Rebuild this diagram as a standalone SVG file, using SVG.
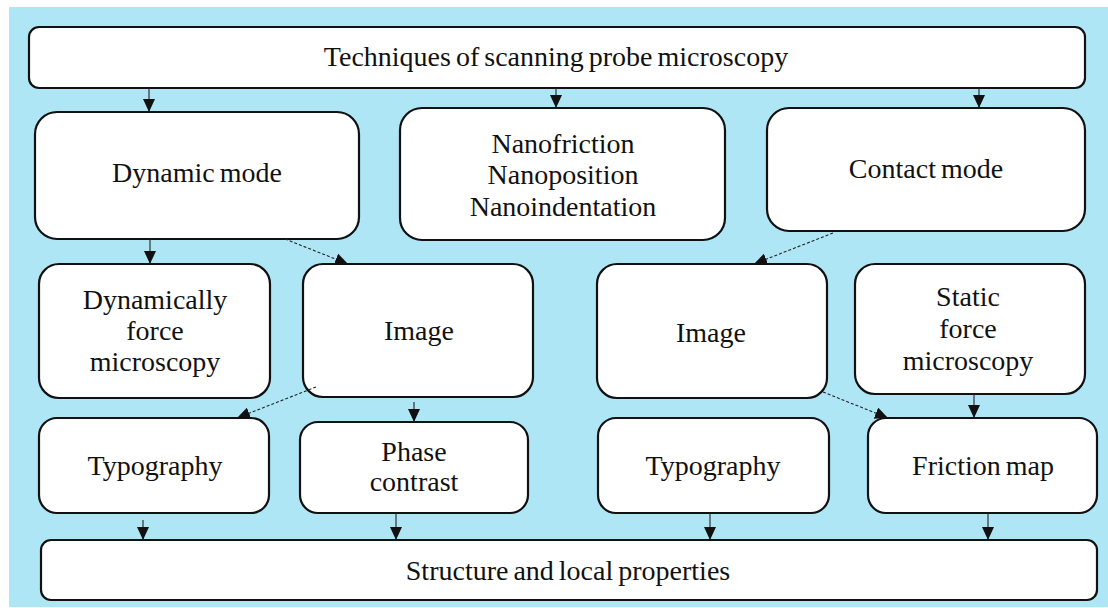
<svg xmlns="http://www.w3.org/2000/svg" width="1108" height="608" viewBox="0 0 1108 608">
<style>
.box{fill:#ffffff;stroke:#111111;stroke-width:2.2}
text{font-family:'Liberation Serif','Tinos','DejaVu Serif','Noto Serif',serif;font-size:28px;fill:#111111;text-anchor:middle;word-spacing:-2px}
.c{stroke:#222222;stroke-width:1.1;fill:none;marker-end:url(#ah)}
.d{stroke-dasharray:3 2}
</style>
<defs>
<marker id="ah" viewBox="0 0 13 12" refX="13" refY="6" markerWidth="13" markerHeight="12" markerUnits="userSpaceOnUse" orient="auto">
<path d="M0,0 L13,6 L0,12 z" fill="#111111"/>
</marker>
</defs>
<rect x="0" y="0" width="1108" height="608" fill="#ffffff"/>
<rect x="9" y="7" width="1099" height="600" fill="#aee6f6"/>

<g id="top">
<rect class="box" x="29" y="27" width="1056" height="61" rx="10"/>
<text x="556" y="66">Techniques of scanning probe microscopy</text>
</g>
<g id="dynamic">
<rect class="box" x="35" y="112" width="324" height="127" rx="22"/>
<text x="197" y="182">Dynamic mode</text>
</g>
<g id="nano">
<rect class="box" x="400" y="108" width="325" height="132" rx="22"/>
<text x="563" y="153">Nanofriction</text>
<text x="563" y="184">Nanoposition</text>
<text x="563" y="216">Nanoindentation</text>
</g>
<g id="contact">
<rect class="box" x="767" y="108" width="318" height="123" rx="22"/>
<text x="926" y="178">Contact mode</text>
</g>
<g id="dynforce">
<rect class="box" x="39" y="264" width="231" height="134" rx="20"/>
<text x="155" y="309">Dynamically</text>
<text x="155" y="340">force</text>
<text x="155" y="371">microscopy</text>
</g>
<g id="imageL">
<rect class="box" x="303" y="264" width="230" height="133" rx="20"/>
<text x="419" y="340">Image</text>
</g>
<g id="imageR">
<rect class="box" x="597" y="264" width="230" height="134" rx="20"/>
<text x="711" y="342">Image</text>
</g>
<g id="static">
<rect class="box" x="855" y="264" width="230" height="130" rx="20"/>
<text x="968" y="306">Static</text>
<text x="968" y="338">force</text>
<text x="968" y="370">microscopy</text>
</g>
<g id="typoL">
<rect class="box" x="39" y="418" width="230" height="95" rx="18"/>
<text x="155" y="475">Typography</text>
</g>
<g id="phase">
<rect class="box" x="300" y="422" width="228" height="91" rx="18"/>
<text x="414" y="461">Phase</text>
<text x="414" y="491">contrast</text>
</g>
<g id="typoR">
<rect class="box" x="598" y="418" width="231" height="95" rx="18"/>
<text x="713" y="475">Typography</text>
</g>
<g id="friction">
<rect class="box" x="868" y="418" width="229" height="95" rx="18"/>
<text x="983" y="475">Friction map</text>
</g>
<g id="structure">
<rect class="box" x="41" y="540" width="1056" height="60" rx="10"/>
<text x="568" y="580">Structure and local properties</text>
</g>

<g id="connectors">
<line class="c" x1="149" y1="88" x2="149" y2="112"/>
<line class="c" x1="556" y1="88" x2="556" y2="108"/>
<line class="c" x1="979" y1="88" x2="979" y2="108"/>
<line class="c" x1="150" y1="239" x2="150" y2="264"/>
<line class="c d" x1="285" y1="239" x2="348" y2="264"/>
<line class="c d" x1="833" y1="233" x2="754" y2="264"/>
<line class="c d" x1="316" y1="387" x2="237" y2="418"/>
<line class="c" x1="414" y1="402" x2="414" y2="422"/>
<line class="c d" x1="823" y1="392" x2="888" y2="418"/>
<line class="c" x1="974" y1="394" x2="974" y2="418"/>
<line class="c" x1="143" y1="520" x2="143" y2="540"/>
<line class="c" x1="396" y1="513" x2="396" y2="540"/>
<line class="c" x1="710" y1="513" x2="710" y2="540"/>
<line class="c" x1="988" y1="513" x2="988" y2="540"/>
</g>
</svg>
